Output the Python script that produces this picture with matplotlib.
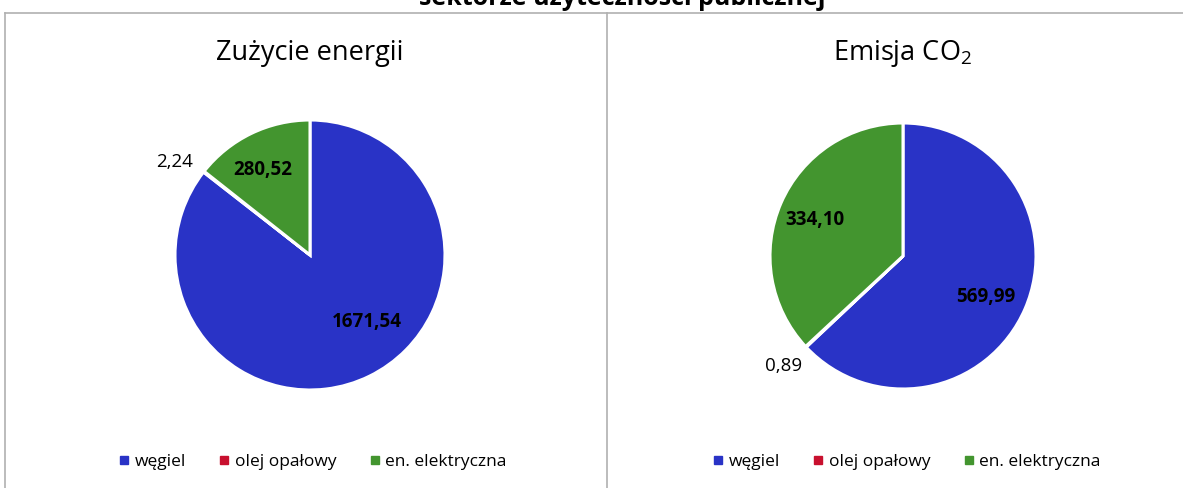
import matplotlib
matplotlib.use('Agg')
import matplotlib.pyplot as plt
from matplotlib.lines import Line2D

plt.rcParams.update({
    'font.family': ['Open Sans', 'DejaVu Sans'],
    'mathtext.fontset': 'custom',
    'mathtext.rm': 'Open Sans',
    'mathtext.it': 'Open Sans:italic',
    'mathtext.bf': 'Open Sans:bold',
})

# dane
kategorie = ['węgiel', 'olej opałowy', 'en. elektryczna']
zuzycie_energii = [1671.54, 2.24, 280.52]
emisja_co2 = [569.99, 0.89, 334.10]
tytuly = ['Zużycie energii', 'Emisja CO$_2$']

kolory = ['#2933C6', '#C8102E', '#43952F']

# pozycje etykiet (w jednostkach promienia) i pogrubienie
etyk_lewy = [(0.42, -0.50, 'bold'), (-1.0, 0.69, 'normal'), (-0.35, 0.63, 'bold')]
etyk_prawy = [(0.62, -0.31, 'bold'), (-0.90, -0.83, 'normal'), (-0.66, 0.27, 'bold')]

W, H = 1183, 488
fig = plt.figure(figsize=(W / 100, H / 100), dpi=100)


def rysuj_pie(cx, cy, r, wartosci, tytul, etykiety, legx):
    size = 3 * r
    ax = fig.add_axes([(cx - size / 2) / W, (H - cy - size / 2) / H, size / W, size / H])
    wedges, _ = ax.pie(wartosci, colors=kolory, startangle=90, counterclock=False,
                       wedgeprops=dict(edgecolor='white', linewidth=2.2))
    ax.set_xlim(-1.5, 1.5)
    ax.set_ylim(-1.5, 1.5)
    for v, (x, y, w) in zip(wartosci, etykiety):
        ax.text(x, y, f'{v:.2f}'.replace('.', ','), ha='center', va='center',
                fontsize=13.5, fontweight=w, color='black')
    fig.text(cx / W, 1 - 60 / H, tytul, ha='center', va='baseline', fontsize=19.5)
    uchwyty = [Line2D([], [], marker='s', color=k, linestyle='', markersize=5.5)
               for k in kolory]
    fig.legend(uchwyty, kategorie, loc='center', bbox_to_anchor=(legx / W, 1 - 462 / H),
               ncol=3, frameon=False, fontsize=12.5, handletextpad=0.1,
               columnspacing=1.7, handlelength=1.0)


rysuj_pie(310, 255, 135, zuzycie_energii, tytuly[0], etyk_lewy, 311)
rysuj_pie(903, 256, 133, emisja_co2, tytuly[1], etyk_prawy, 905)

# ramki paneli
kol_ramki = '#B0B0B0'
fig.add_artist(Line2D([5 / W, 1], [1 - 12.5 / H, 1 - 12.5 / H], color=kol_ramki, lw=1.2))
fig.add_artist(Line2D([5 / W, 5 / W], [0, 1 - 12.5 / H], color=kol_ramki, lw=1.2))
fig.add_artist(Line2D([607 / W, 607 / W], [0, 1 - 12.5 / H], color=kol_ramki, lw=1.2))

# przycięty tytuł nad wykresami (w oryginale widoczny tylko dół liter)
fig.text(622 / W, 1 - 5 / H, 'sektorze użyteczności publicznej', ha='center', va='baseline',
         fontsize=18, fontweight='bold')

fig.savefig('out.png', dpi=100)
